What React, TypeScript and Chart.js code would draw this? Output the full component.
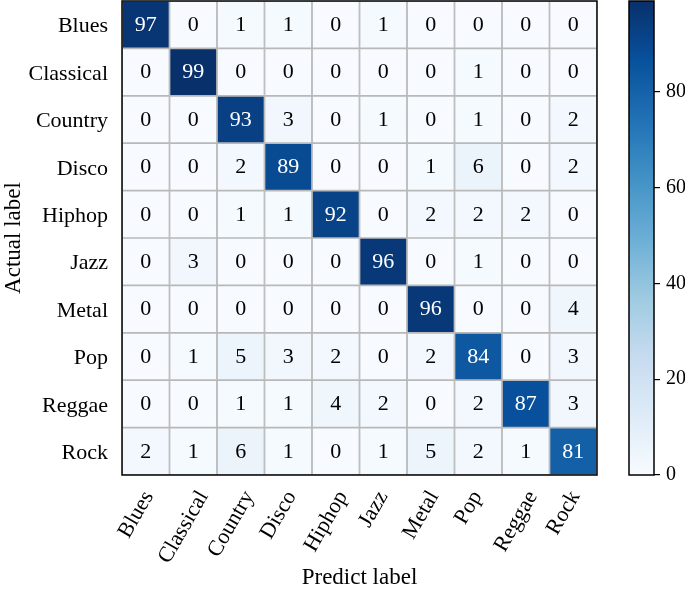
import React, { useEffect, useRef } from "react";
import { Chart, registerables } from "chart.js";

Chart.register(...registerables);

const predictLabels = ["Blues", "Classical", "Country", "Disco", "Hiphop", "Jazz", "Metal", "Pop", "Reggae", "Rock"];
const actualLabels = ["Blues", "Classical", "Country", "Disco", "Hiphop", "Jazz", "Metal", "Pop", "Reggae", "Rock"];

const rowBlues = [97, 0, 1, 1, 0, 1, 0, 0, 0, 0];
const rowClassical = [0, 99, 0, 0, 0, 0, 0, 1, 0, 0];
const rowCountry = [0, 0, 93, 3, 0, 1, 0, 1, 0, 2];
const rowDisco = [0, 0, 2, 89, 0, 0, 1, 6, 0, 2];
const rowHiphop = [0, 0, 1, 1, 92, 0, 2, 2, 2, 0];
const rowJazz = [0, 3, 0, 0, 0, 96, 0, 1, 0, 0];
const rowMetal = [0, 0, 0, 0, 0, 0, 96, 0, 0, 4];
const rowPop = [0, 1, 5, 3, 2, 0, 2, 84, 0, 3];
const rowReggae = [0, 0, 1, 1, 4, 2, 0, 2, 87, 3];
const rowRock = [2, 1, 6, 1, 0, 1, 5, 2, 1, 81];

const matrix = [rowBlues, rowClassical, rowCountry, rowDisco, rowHiphop, rowJazz, rowMetal, rowPop, rowReggae, rowRock];

const colorbarTicks = [0, 20, 40, 60, 80];

const FONT = "'Liberation Serif', 'Times New Roman', serif";

const BLUES = [
  [247, 251, 255],
  [222, 235, 247],
  [198, 219, 239],
  [158, 202, 225],
  [107, 174, 214],
  [66, 146, 198],
  [33, 113, 181],
  [8, 81, 156],
  [8, 48, 107],
];

function blues(t: number): string {
  const x = Math.max(0, Math.min(1, t)) * (BLUES.length - 1);
  const i = Math.min(BLUES.length - 2, Math.floor(x));
  const f = x - i;
  const a = BLUES[i];
  const b = BLUES[i + 1];
  const c = a.map((v, k) => Math.round(v + (b[k] - v) * f));
  return `rgb(${c[0]},${c[1]},${c[2]})`;
}

const vmin = Math.min(...matrix.flat());
const vmax = Math.max(...matrix.flat());

export default function App() {
  const mainRef = useRef<HTMLCanvasElement>(null);
  const barRef = useRef<HTMLCanvasElement>(null);

  useEffect(() => {
    const cellText = {
      id: "cellText",
      afterDatasetsDraw(chart: any) {
        const { ctx, chartArea, scales } = chart;
        const xs = scales.x;
        const ys = scales.y;
        ctx.save();
        ctx.font = `22px ${FONT}`;
        ctx.textAlign = "center";
        ctx.textBaseline = "middle";
        matrix.forEach((row, i) => {
          row.forEach((v, j) => {
            const x = xs.getPixelForValue(j);
            const y = ys.getPixelForValue(i + 0.5);
            ctx.fillStyle = v > (vmin + vmax) / 2 ? "#ffffff" : "#000000";
            ctx.fillText(String(v), x, y + 0.5);
          });
        });
        ctx.strokeStyle = "#000";
        ctx.lineWidth = 1.5;
        ctx.strokeRect(chartArea.left, chartArea.top, chartArea.right - chartArea.left, chartArea.bottom - chartArea.top);

        // rotated x tick labels (rotated 60°, placed under each column)
        const ang = Math.PI / 3;
        const top0 = chartArea.bottom + 11;
        ctx.fillStyle = "#000";
        ctx.textAlign = "left";
        ctx.textBaseline = "alphabetic";
        predictLabels.forEach((lab, j) => {
          const m = ctx.measureText(lab);
          const asc = 22 * 0.891;
          const desc = 22 * 0.216;
          const w = m.width;
          const h = asc + desc;
          const tx = xs.getPixelForValue(j);
          const bx = tx - (w * Math.cos(ang) - h * Math.sin(ang)) / 2 - 11;
          const by = top0 + w * Math.sin(ang) + h * Math.cos(ang);
          ctx.save();
          ctx.translate(bx, by);
          ctx.rotate(-ang);
          ctx.fillText(lab, 0, -desc);
          ctx.restore();
        });
        ctx.restore();
      },
    };

    const main = new Chart(mainRef.current!, {
      type: "bar",
      data: {
        labels: predictLabels,
        datasets: matrix.map((row, i) => ({
          label: actualLabels[i],
          data: row.map(() => [i, i + 1]) as any,
          backgroundColor: row.map((v) => blues((v - vmin) / (vmax - vmin))),
          borderColor: "#b8b8b8",
          borderWidth: 1.2,
          borderSkipped: false,
          barPercentage: 1,
          categoryPercentage: 1,
          grouped: false,
        })),
      },
      options: {
        responsive: false,
        devicePixelRatio: 1,
        animation: false,
        layout: { padding: { top: 1, right: 13, left: 0, bottom: 0 } },
        plugins: { legend: { display: false }, tooltip: { enabled: false } },
        scales: {
          x: {
            type: "category",
            grid: { display: false, drawTicks: false },
            border: { display: false },
            ticks: { display: false },
            title: {
              display: true,
              text: "Predict label",
              color: "#000",
              font: { family: FONT, size: 23 },
              padding: 0,
            },
            afterFit: (s: any) => {
              s.height = 117;
              s.paddingLeft = 0;
              s.paddingRight = 0;
              s.paddingTop = 0;
              s.paddingBottom = 0;
            },
          },
          y: {
            type: "linear",
            min: 0,
            max: actualLabels.length,
            reverse: true,
            grid: { display: false, drawTicks: false },
            border: { display: false },
            afterBuildTicks: (s: any) => {
              s.ticks = actualLabels.map((_, i) => ({ value: i + 0.5 }));
            },
            ticks: {
              color: "#000",
              font: { family: FONT, size: 22 },
              padding: 14,
              labelOffset: 2,
              autoSkip: false,
              callback: (v: any) => actualLabels[Math.floor(Number(v))],
            },
            title: {
              display: true,
              text: "Actual label",
              color: "#000",
              font: { family: FONT, size: 23 },
              padding: 0,
            },
            afterFit: (s: any) => {
              s.width = 122;
              s.paddingLeft = 0;
              s.paddingRight = 0;
              s.paddingTop = 0;
              s.paddingBottom = 0;
            },
          },
        },
      },
      plugins: [cellText],
    });

    const barBorder = {
      id: "barBorder",
      afterDatasetsDraw(chart: any) {
        const { ctx, chartArea } = chart;
        ctx.save();
        ctx.strokeStyle = "#000";
        ctx.lineWidth = 1.5;
        ctx.strokeRect(chartArea.left, chartArea.top, chartArea.right - chartArea.left, chartArea.bottom - chartArea.top);
        ctx.restore();
      },
    };

    const cbar = new Chart(barRef.current!, {
      type: "bar",
      data: {
        labels: [""],
        datasets: [
          {
            data: [[vmin, vmax]] as any,
            backgroundColor: (c: any) => {
              const chart = c.chart;
              const y = chart.scales?.y;
              if (!y) return blues(0.5);
              const p0 = y.getPixelForValue(vmin);
              const p1 = y.getPixelForValue(vmax);
              if (!Number.isFinite(p0) || !Number.isFinite(p1) || p0 === p1) return blues(0.5);
              const g = chart.ctx.createLinearGradient(0, p0, 0, p1);
              BLUES.forEach((_, k) => g.addColorStop(k / (BLUES.length - 1), blues(k / (BLUES.length - 1))));
              return g;
            },
            borderWidth: 0,
            barPercentage: 1,
            categoryPercentage: 1,
          },
        ],
      },
      options: {
        responsive: false,
        devicePixelRatio: 1,
        animation: false,
        layout: { padding: { top: 1, left: 19, right: 0, bottom: 117 } },
        plugins: { legend: { display: false }, tooltip: { enabled: false } },
        scales: {
          x: { display: false },
          y: {
            position: "right",
            min: vmin,
            max: vmax,
            afterBuildTicks: (s: any) => {
              s.ticks = colorbarTicks.map((v) => ({ value: v }));
            },
            grid: { display: true, drawOnChartArea: false, drawTicks: true, tickLength: 6, color: "#000", lineWidth: 1.2 },
            border: { display: false },
            ticks: {
              color: "#000",
              font: { family: FONT, size: 20 },
              padding: 6,
            },
            afterFit: (s: any) => {
              s.width = 31;
              s.paddingLeft = 0;
              s.paddingRight = 0;
              s.paddingTop = 0;
              s.paddingBottom = 0;
            },
          },
        },
      },
      plugins: [barBorder],
    });
    cbar.update();

    return () => {
      main.destroy();
      cbar.destroy();
    };
  }, []);

  return (
    <div style={{ position: "absolute", left: 0, top: 0, width: 685, height: 592, background: "#fff" }}>
      <canvas ref={mainRef} width={610} height={592} style={{ position: "absolute", left: 0, top: 0 }} />
      <canvas ref={barRef} width={75} height={592} style={{ position: "absolute", left: 610, top: 0 }} />
    </div>
  );
}
